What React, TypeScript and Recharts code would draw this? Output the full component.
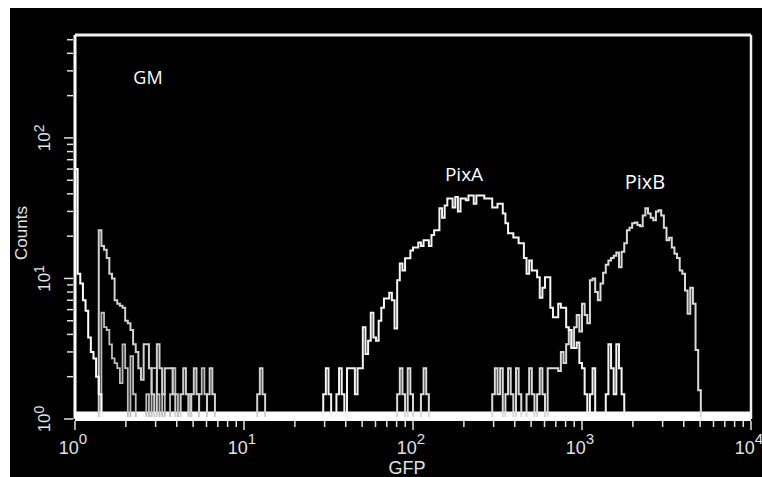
import { LineChart, Line, XAxis, YAxis, ReferenceLine, ReferenceArea } from "recharts";

// 256-channel log histogram over 4 decades
const CHANNELS_PER_DECADE = 64;

const xDecades = [1, 10, 100, 1000, 10000];
const xExponents = ["0", "1", "2", "3", "4"];
const yDecades = [1, 10, 100];
const yExponents = ["0", "1", "2"];
const yTop = 540;

// GM (negative control) samples
const gm1Start = 0;
const gm1Counts = [60, 10.8, 9.2, 7, 5.9, 3.8, 3, 2.7, 2, 1.5, 1];

const gm2Start = 8;
const gm2Counts = [
  1, 22, 17, 16, 14, 10.8, 10, 7, 6.6, 6.4, 6.2, 5, 4.8, 4.3, 3.4, 3, 2.3, 1.9, 3.4, 3.4,
  2.3, 1.5, 1, 3.4, 2.3, 1.5, 2.3, 2.3, 2.3, 1.5, 1, 1, 1.5, 2.3, 1.5, 1, 1.5, 2.3, 1.5, 1,
  1, 1, 1.5, 2.3, 1.5, 1, 1, 1, 1, 1, 1, 1, 1, 1, 1, 1, 1, 1, 1, 1, 1, 1.5, 2.3, 1.5, 1,
];

const gm3Start = 9;
const gm3Counts = [
  1, 5.7, 4.5, 4.3, 3.4, 2.7, 2.5, 2.3, 1.8, 3.4, 2.3, 1, 2.8, 1.5, 1, 1, 1, 1, 1.5, 1,
  2.3, 2.3, 1.5, 1, 1.5, 1, 1, 1.5, 2.3, 1.5, 1, 1, 1, 1, 1.5, 1, 1, 1, 1.5, 2.3, 1.5, 1,
];

// PixA sample
const pixAStart = 92;
const pixACounts = [
  1, 1, 1.5, 2.3, 1.5, 1, 1, 1.5, 2.3, 1.5, 1, 2.3, 2.3, 2.3, 1.5, 2.3,
  2.3, 4.5, 2.9, 3.6, 5.7, 3.8, 3.6, 5, 6.2, 7.2, 7.2, 7.9, 7, 4.4, 9.7, 12.8, 11.4, 13.9,
  13.9, 15.8, 16.6, 16.6, 18, 17, 18.7, 18.7, 17, 20.4, 22, 22, 31.6, 27, 33, 37, 37, 32,
  38, 30, 37, 37, 36, 39, 39, 34, 39, 39, 39, 37, 37, 37, 32, 32, 34, 34, 29, 24.7, 21, 21,
  19.6, 19.6, 17.8, 17.8, 14, 10.8, 13.4, 11.4, 11.4, 10.2, 7.3, 8.6, 10.2, 10.2, 6.2, 5.3,
  5.3, 6.6, 6.2, 6.2, 4.5, 4.3, 3.2, 3.2, 3.5, 2.5, 2.3, 1.5, 1, 1.5, 2.3, 1, 1, 1, 1, 1.5,
  3.4, 2.3, 1.5, 3.4, 2.3, 1.5, 1,
];

// PixB sample
const pixBStart = 120;
const pixBCounts = [
  1, 1, 1.5, 2.3, 1.5, 1, 2.3, 1.5, 1, 1, 1, 1.5, 2.3, 1.5,
  1, 1, 1, 1, 1, 1, 1, 1, 1, 1, 1, 1, 1, 1, 1, 1, 1, 1, 1, 1, 1, 1, 1, 1,
  1.5, 2.3, 1.5, 2.3, 1, 1.5, 2.3, 1.5, 1, 2.3, 1.5, 1, 1, 1.5, 2.3, 1.5, 1, 1.5, 2.3, 1.5,
  1, 2.3, 2.3, 2.3, 2.3, 2.2, 3, 2.5, 3.4, 4.3, 3.2, 4.5, 5.5, 4.2, 6.6, 5.5, 4.8, 9.7, 10,
  8, 7, 9.2, 11, 12.5, 13.4, 14, 14.5, 15.3, 12, 15.5, 17.8, 22, 23, 24.7, 25, 24, 23.5, 28,
  31.6, 29, 27, 26, 30, 30.6, 28, 23, 18.7, 19.5, 16.6, 15, 14, 11.4, 10.8, 8.2, 5.6, 8.6,
  6.6, 3.1, 1.6, 1,
];

const toBins = (start: number, counts: number[]) => {
  const pts = counts.map((count, i) => ({ gfp: 10 ** ((start + i) / CHANNELS_PER_DECADE), count }));
  pts.push({ gfp: 10 ** ((start + counts.length) / CHANNELS_PER_DECADE), count: 1 });
  return pts;
};

const logTicks = (decades: number[], max: number) =>
  decades.flatMap((d) => [1, 2, 3, 4, 5, 6, 7, 8, 9].map((m) => d * m)).filter((v) => v <= max);

const xTicks = logTicks(xDecades, 10000);
const yTicks = logTicks(yDecades, yTop);

const LABEL = "#e2e2e2";
const FONT = "'Liberation Sans', Arial, sans-serif";

function XTick({ x, y, payload }: any) {
  const i = xDecades.indexOf(payload.value);
  return (
    <g>
      <line x1={x} x2={x} y1={y} y2={y + (i >= 0 ? 9 : 6)} stroke={LABEL} strokeWidth={1.5} />
      {i >= 0 && (
        <text x={x - 2} y={y + 33} textAnchor="middle" fill={LABEL} fontSize={18} fontFamily={FONT}>
          10
          <tspan dy={-10} fontSize={15}>
            {xExponents[i]}
          </tspan>
        </text>
      )}
    </g>
  );
}

function YTick({ x, y, payload }: any) {
  const i = yDecades.indexOf(payload.value);
  return (
    <g>
      <line x1={x} x2={x - (i >= 0 ? 9 : 6)} y1={y} y2={y} stroke={LABEL} strokeWidth={1.5} />
      {i >= 0 && (
        <text
          transform={`translate(${x - 23},${y}) rotate(-90)`}
          textAnchor="middle"
          fill={LABEL}
          fontSize={17}
          fontFamily={FONT}
        >
          10
          <tspan dy={-6} fontSize={14}>
            {yExponents[i]}
          </tspan>
        </text>
      )}
    </g>
  );
}

export default function App() {
  return (
    <div style={{ position: "absolute", left: 10, top: 8, width: 752, height: 469, background: "#000" }}>
      <LineChart width={752} height={469} margin={{ top: 27, right: 11, bottom: 0, left: 0 }}>
        <XAxis
          dataKey="gfp"
          type="number"
          scale="log"
          domain={[1, 10000]}
          allowDataOverflow
          ticks={xTicks}
          interval={0}
          tickSize={0}
          tickLine={false}
          height={58}
          axisLine={{ stroke: "#fff", strokeWidth: 4 }}
          tick={<XTick />}
        />
        <YAxis
          type="number"
          scale="log"
          domain={[1, yTop]}
          allowDataOverflow
          ticks={yTicks}
          interval={0}
          tickSize={0}
          tickLine={false}
          width={65}
          axisLine={{ stroke: "#fff", strokeWidth: 3 }}
          tick={<YTick />}
        />
        <ReferenceArea x1={1} x2={10000} y1={1} y2={1.13} fill="#fff" fillOpacity={1} stroke="none" />
        <ReferenceLine y={yTop} stroke="#f0f0f0" strokeWidth={3} />
        <ReferenceLine x={10000} stroke="#f0f0f0" strokeWidth={2.5} />
        <Line data={toBins(gm3Start, gm3Counts)} dataKey="count" type="stepAfter" stroke="#bdbdbd" strokeWidth={1.8} dot={false} isAnimationActive={false} />
        <Line data={toBins(gm2Start, gm2Counts)} dataKey="count" type="stepAfter" stroke="#d0d0d0" strokeWidth={2} dot={false} isAnimationActive={false} />
        <Line data={toBins(pixBStart, pixBCounts)} dataKey="count" type="stepAfter" stroke="#d9d9d9" strokeWidth={2} dot={false} isAnimationActive={false} />
        <Line data={toBins(gm1Start, gm1Counts)} dataKey="count" type="stepAfter" stroke="#ffffff" strokeWidth={2} dot={false} isAnimationActive={false} />
        <Line data={toBins(pixAStart, pixACounts)} dataKey="count" type="stepAfter" stroke="#f4f4f4" strokeWidth={2} dot={false} isAnimationActive={false} />
      </LineChart>
      <svg width={752} height={469} style={{ position: "absolute", left: 0, top: 0, pointerEvents: "none" }}>
        <g fill="#fff" fontFamily="'Open Sans', sans-serif">
          <text x={138} y={76} textAnchor="middle" fontSize={18}>GM</text>
          <text x={454} y={173} textAnchor="middle" fontSize={19}>PixA</text>
          <text x={635} y={181} textAnchor="middle" fontSize={20}>PixB</text>
        </g>
        <g fill={LABEL} fontFamily={FONT}>
          <text transform="translate(17,225) rotate(-90)" textAnchor="middle" fontSize={17}>Counts</text>
          <text x={397} y={466} textAnchor="middle" fontSize={18}>GFP</text>
        </g>
      </svg>
    </div>
  );
}
